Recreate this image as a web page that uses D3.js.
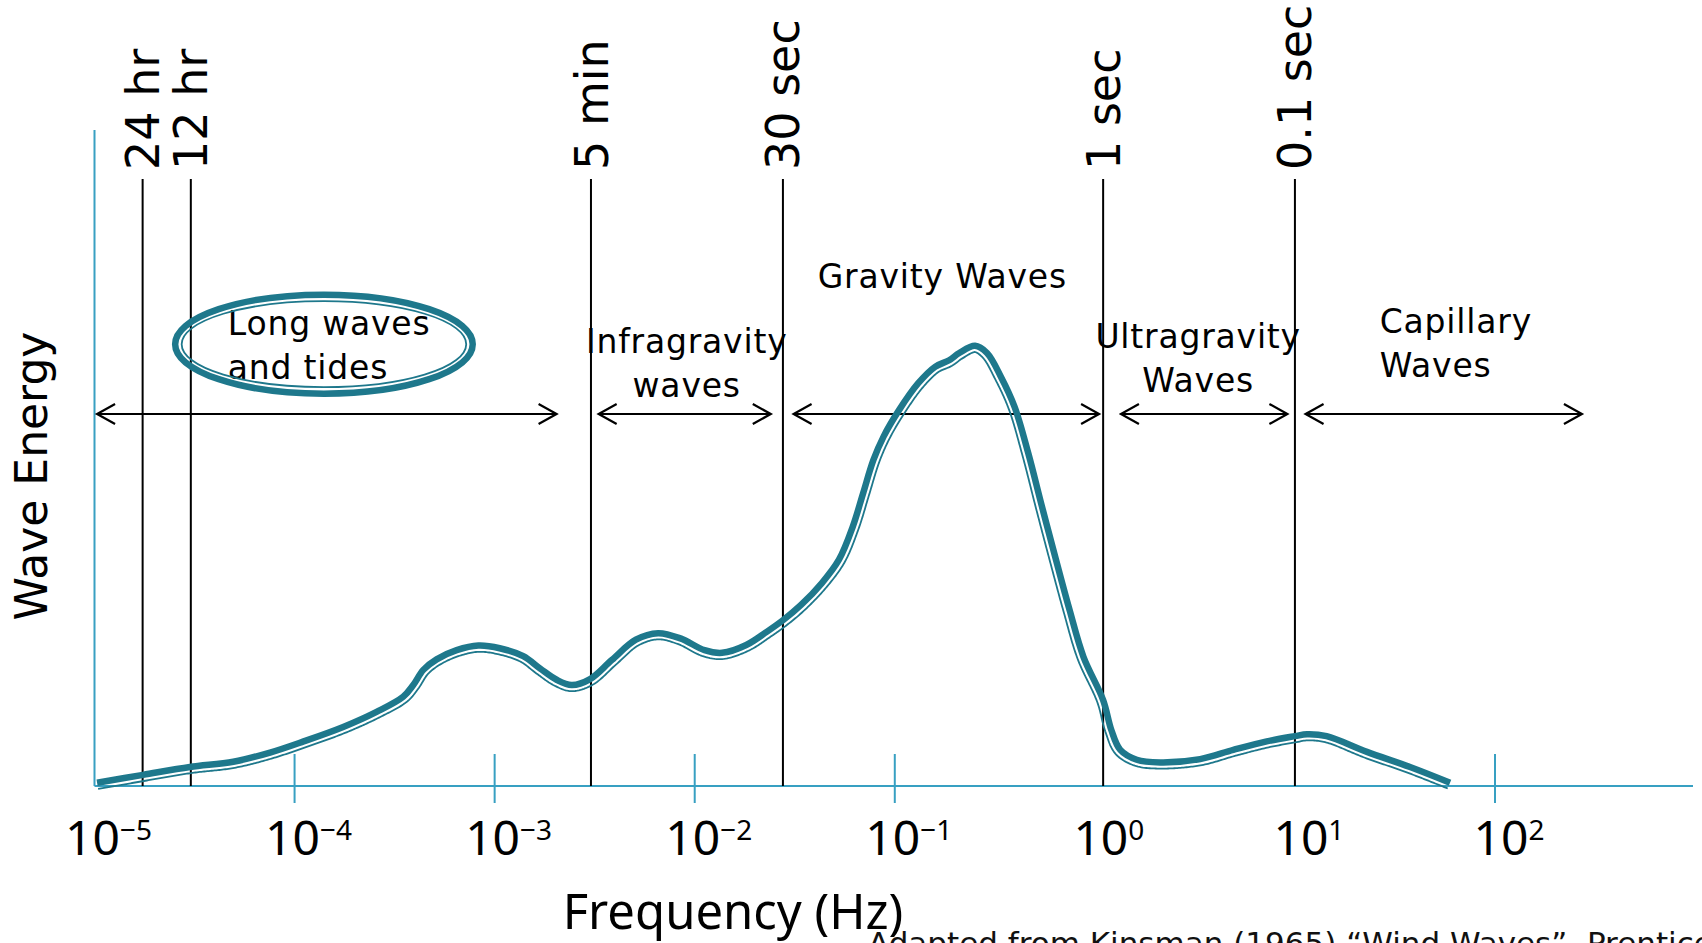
<!DOCTYPE html>
<html>
<head>
<meta charset="utf-8">
<script src="https://cdn.jsdelivr.net/npm/d3@7"></script>
<style>
  html, body { margin: 0; padding: 0; background: #fff; }
  svg { display: block; }
</style>
</head>
<body>
<div id="chart"></div>
<script>
// Wave energy spectrum (after Kinsman 1965). Log frequency axis, arbitrary
// energy units 0..1 on the vertical.

// ─── data ──────────────────────────────────────────────────────────────
const DECADES = [1e-5, 1e-4, 1e-3, 1e-2, 1e-1, 1e0, 1e1, 1e2];
const TICK_MARKS = [1e-4, 1e-3, 1e-2, 1e-1, 1e2];

const PERIOD_LABELS = ["24 hr", "12 hr", "5 min", "30 sec", "1 sec", "0.1 sec"];
const PERIOD_FREQ = [1.74e-5, 3.03e-5, 3.03e-3, 2.76e-2, 1.10, 10.0];

const BAND_TEXT = [
  ["Long waves", "and tides"],
  ["Infragravity", "waves"],
  ["Gravity Waves"],
  ["Ultragravity", "Waves"],
  ["Capillary", "Waves"],
];
const BAND_FROM = [1.03e-5, 3.31e-3, 3.12e-2, 1.35, 11.3];
const BAND_TO = [2.04e-3, 2.40e-2, 1.05, 9.17, 272];

const SPECTRUM_FREQ = [
  1.03e-5, 1.75e-5, 3.00e-5, 4.94e-5, 7.54e-5, 1.11e-4, 1.75e-4, 2.57e-4, 3.49e-4, 3.92e-4,
  4.40e-4, 5.13e-4, 6.46e-4, 8.29e-4, 1.06e-3, 1.39e-3, 1.69e-3, 2.04e-3, 2.43e-3, 3.00e-3,
  3.85e-3, 5.08e-3, 6.56e-3, 8.49e-3, 1.12e-2, 1.37e-2, 1.81e-2, 2.29e-2, 2.77e-2, 3.40e-2,
  4.31e-2, 5.26e-2, 6.16e-2, 6.94e-2, 7.82e-2, 8.80e-2, 0.105, 0.131, 0.159, 0.187,
  0.210, 0.252, 0.289, 0.339, 0.397, 0.465, 0.544, 0.639, 0.748, 0.877,
  1.10, 1.21, 1.34, 1.62, 2.12, 3.36, 4.92, 7.23, 10.0, 11.5,
  14.4, 22.9, 37.6, 59.6,
];
const SPECTRUM_ENERGY = [
  0.005, 0.017, 0.029, 0.037, 0.051, 0.068, 0.090, 0.113, 0.136, 0.154,
  0.177, 0.193, 0.207, 0.214, 0.210, 0.198, 0.179, 0.162, 0.154, 0.163,
  0.192, 0.223, 0.233, 0.225, 0.207, 0.203, 0.215, 0.235, 0.253, 0.276,
  0.309, 0.345, 0.395, 0.446, 0.497, 0.533, 0.573, 0.614, 0.639, 0.649,
  0.660, 0.671, 0.660, 0.624, 0.578, 0.507, 0.426, 0.345, 0.268, 0.197,
  0.131, 0.085, 0.055, 0.040, 0.036, 0.041, 0.055, 0.068, 0.076, 0.079,
  0.076, 0.052, 0.029, 0.005,
];

// ring drawn round the "Long waves and tides" label
const HIGHLIGHT_FREQ = [2.53e-5, 7.77e-4];
const HIGHLIGHT_ENERGY = [0.598, 0.749];

const X_TITLE = "Frequency (Hz)";
const Y_TITLE = "Wave Energy";
const CREDIT = "Adapted from Kinsman (1965) \u201cWind Waves\u201d, Prentice-Hall";

// ─── layout ────────────────────────────────────────────────────────────
const W = 1702, H = 943;
const X_RANGE = [94.5, 1495];
const Y_RANGE = [786, 130];
const AXIS_RIGHT = 1693;
const LINE_TOP = 179;
const PERIOD_LABEL_START = 170;
const ARROW_Y = 414;
const LINE_GAP = 44;
// per band: text anchor, horizontal nudge from arrow middle, first baseline
const BAND_LAYOUT = [
  { anchor: "start", dx: -99, y: 335 },
  { anchor: "middle", dx: 2, y: 353 },
  { anchor: "middle", dx: -4, y: 288 },
  { anchor: "middle", dx: -6, y: 348 },
  { anchor: "start", dx: -64, y: 333 },
];

const AXIS_COLOR = "#38a0c2";
const CURVE_COLOR = "#1e788c";
const LABEL_FONT = "'DejaVu Sans', Verdana, sans-serif";
const TICK_FONT = "'Noto Sans', 'Open Sans', sans-serif";

const x = d3.scaleLog().domain([DECADES[0], DECADES[DECADES.length - 1]]).range(X_RANGE);
const y = d3.scaleLinear().domain([0, 1]).range(Y_RANGE);

const svg = d3.select("#chart")
  .append("svg")
  .attr("width", W)
  .attr("height", H)
  .attr("viewBox", `0 0 ${W} ${H}`);

svg.append("rect").attr("width", W).attr("height", H).attr("fill", "#fff");

// ─── axes ──────────────────────────────────────────────────────────────
svg.append("line")
  .attr("x1", x(DECADES[0])).attr("x2", AXIS_RIGHT)
  .attr("y1", y(0)).attr("y2", y(0))
  .attr("stroke", AXIS_COLOR).attr("stroke-width", 2);
svg.append("line")
  .attr("x1", x(DECADES[0])).attr("x2", x(DECADES[0]))
  .attr("y1", y(0)).attr("y2", y(1))
  .attr("stroke", AXIS_COLOR).attr("stroke-width", 2);

svg.append("g")
  .selectAll("line")
  .data(TICK_MARKS)
  .join("line")
  .attr("x1", (d) => x(d)).attr("x2", (d) => x(d))
  .attr("y1", y(0) - 32).attr("y2", y(0) + 17)
  .attr("stroke", AXIS_COLOR).attr("stroke-width", 2);

const tickText = svg.append("g")
  .selectAll("text")
  .data(DECADES)
  .join("text")
  .attr("x", (d) => x(d) + 14)
  .attr("y", 855)
  .attr("text-anchor", "middle")
  .attr("font-family", TICK_FONT)
  .attr("font-size", 48)
  .attr("fill", "#000");
tickText.append("tspan").text("10");
tickText.append("tspan")
  .attr("font-size", 28)
  .attr("dy", -15)
  .text((d) => {
    const e = Math.round(Math.log10(d));
    return e < 0 ? `\u2212${-e}` : `${e}`;
  });

svg.append("text")
  .attr("x", 733)
  .attr("y", 929)
  .attr("text-anchor", "middle")
  .attr("font-family", TICK_FONT)
  .attr("font-size", 49)
  .text(X_TITLE);

svg.append("text")
  .attr("transform", `translate(47,476) rotate(-90)`)
  .attr("text-anchor", "middle")
  .attr("font-family", LABEL_FONT)
  .attr("font-size", 44)
  .text(Y_TITLE);

// ─── period markers ────────────────────────────────────────────────────
const periods = PERIOD_LABELS.map((label, i) => ({ label, f: PERIOD_FREQ[i] }));
const pg = svg.append("g").attr("class", "periods");
pg.selectAll("line")
  .data(periods)
  .join("line")
  .attr("x1", (d) => x(d.f)).attr("x2", (d) => x(d.f))
  .attr("y1", LINE_TOP).attr("y2", y(0))
  .attr("stroke", "#000").attr("stroke-width", 2);
// rotated text reads bottom-to-top, so its start sits just above the line
pg.selectAll("text")
  .data(periods)
  .join("text")
  .attr("transform", (d) => `translate(${x(d.f)},${PERIOD_LABEL_START}) rotate(-90)`)
  .attr("text-anchor", "start")
  .attr("dy", "0.36em")
  .attr("font-family", LABEL_FONT)
  .attr("font-size", 46)
  .text((d) => d.label);

// ─── band arrows + labels ──────────────────────────────────────────────
const bands = BAND_TEXT.map((lines, i) => ({
  lines,
  x0: x(BAND_FROM[i]),
  x1: x(BAND_TO[i]),
  lay: BAND_LAYOUT[i],
}));

const bg = svg.append("g").attr("class", "bands");
const head = 18, half = 10;
bg.selectAll("path")
  .data(bands)
  .join("path")
  .attr("d", (d) =>
    `M ${d.x0},${ARROW_Y} L ${d.x1},${ARROW_Y}` +
    ` M ${d.x0 + head},${ARROW_Y - half} L ${d.x0},${ARROW_Y} L ${d.x0 + head},${ARROW_Y + half}` +
    ` M ${d.x1 - head},${ARROW_Y - half} L ${d.x1},${ARROW_Y} L ${d.x1 - head},${ARROW_Y + half}`)
  .attr("fill", "none")
  .attr("stroke", "#000")
  .attr("stroke-width", 2.2);

const bandText = bg.selectAll("text")
  .data(bands)
  .join("text")
  .attr("text-anchor", (d) => d.lay.anchor)
  .attr("font-family", LABEL_FONT)
  .attr("font-size", 33)
  .attr("letter-spacing", 0.8)
  .attr("fill", "#000");
bandText.selectAll("tspan")
  .data((d) => d.lines.map((t, j) => ({ t, j, d })))
  .join("tspan")
  .attr("x", (o) => (o.d.x0 + o.d.x1) / 2 + o.d.lay.dx)
  .attr("y", (o) => o.d.lay.y + o.j * LINE_GAP)
  .text((o) => o.t);

// ─── double-stroked outline helper ─────────────────────────────────────
// samples a path and returns a polyline shifted `dist` px to the right of
// the travel direction (below, for a left-to-right curve)
function offsetPoints(node, dist, step) {
  const len = node.getTotalLength();
  const pts = [];
  for (let s = 0; s < len; s += step) pts.push(node.getPointAtLength(s));
  pts.push(node.getPointAtLength(len));
  return pts.map((p, i) => {
    const a = pts[Math.max(0, i - 2)];
    const b = pts[Math.min(pts.length - 1, i + 2)];
    const dx = b.x - a.x, dy = b.y - a.y;
    const n = Math.hypot(dx, dy) || 1;
    return [p.x - (dy / n) * dist, p.y + (dx / n) * dist];
  });
}

// ─── highlight ring ────────────────────────────────────────────────────
const ex0 = x(HIGHLIGHT_FREQ[0]), ex1 = x(HIGHLIGHT_FREQ[1]);
const ey0 = y(HIGHLIGHT_ENERGY[1]), ey1 = y(HIGHLIGHT_ENERGY[0]);
const ecx = (ex0 + ex1) / 2, ecy = (ey0 + ey1) / 2;
const erx = (ex1 - ex0) / 2, ery = (ey1 - ey0) / 2;
svg.append("ellipse")
  .attr("cx", ecx).attr("cy", ecy).attr("rx", erx).attr("ry", ery)
  .attr("fill", "none").attr("stroke", CURVE_COLOR).attr("stroke-width", 6.5);
svg.append("ellipse")
  .attr("cx", ecx).attr("cy", ecy).attr("rx", erx - 6.5).attr("ry", ery - 6.5)
  .attr("fill", "none").attr("stroke", CURVE_COLOR).attr("stroke-width", 1.8);

// ─── spectrum curve ────────────────────────────────────────────────────
const spectrum = SPECTRUM_FREQ.map((f, i) => ({ f, e: SPECTRUM_ENERGY[i] }));
const curve = d3.line()
  .x((d) => x(d.f))
  .y((d) => y(d.e))
  .curve(d3.curveCatmullRom.alpha(0.5));

const mainPath = svg.append("path")
  .datum(spectrum)
  .attr("d", curve)
  .attr("fill", "none")
  .attr("stroke", CURVE_COLOR)
  .attr("stroke-width", 6.5)
  .attr("stroke-linejoin", "round");

svg.append("path")
  .datum(offsetPoints(mainPath.node(), 6.2, 1.5))
  .attr("d", d3.line())
  .attr("fill", "none")
  .attr("stroke", CURVE_COLOR)
  .attr("stroke-width", 1.8)
  .attr("stroke-linejoin", "round");

// ─── credit line (runs off the bottom edge as in the source) ───────────
svg.append("text")
  .attr("x", 868)
  .attr("y", 954)
  .attr("font-family", LABEL_FONT)
  .attr("font-size", 31)
  .attr("fill", "#111")
  .text(CREDIT);
</script>
</body>
</html>
